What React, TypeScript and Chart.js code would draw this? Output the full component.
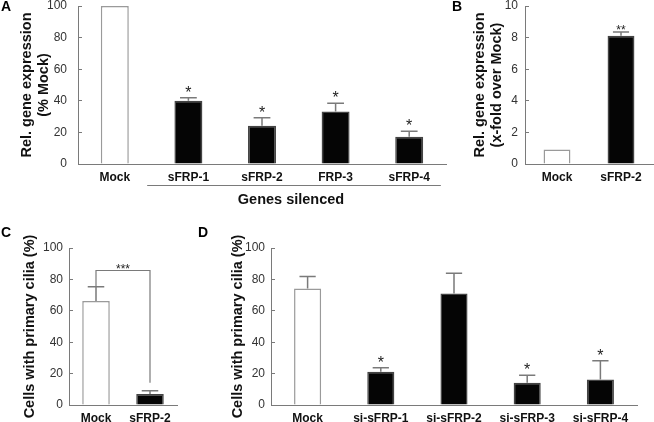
import React, { useEffect, useRef } from 'react';
import { Chart, registerables } from 'chart.js';

Chart.register(...registerables);

const FONT = '"Liberation Sans", Arial, Helvetica, sans-serif';
const AXIS = '#7a7a7a';

// ---- Panel A ----
const aLabels = ['Mock', 'sFRP-1', 'sFRP-2', 'FRP-3', 'sFRP-4'];
const aValues = [100, 40, 24.2, 33.2, 17.2];
const aErrors = [0, 2, 5, 5.3, 3.6];
const aStars = ['', '*', '*', '*', '*'];
const aTicks = [0, 20, 40, 60, 80, 100];
const aTitle = ['Rel. gene expression', '(% Mock)'];
const aGroupTitle = 'Genes silenced';

// ---- Panel B ----
const bLabels = ['Mock', 'sFRP-2'];
const bValues = [0.92, 8.12];
const bErrors = [0, 0.24];
const bStars = ['', '**'];
const bTicks = [0, 2, 4, 6, 8, 10];
const bTitle = ['Rel. gene expression', '(x-fold over Mock)'];

// ---- Panel C ----
const cLabels = ['Mock', 'sFRP-2'];
const cValues = [66.3, 7.0];
const cErrors = [9, 2.1];
const cStars = ['', ''];
const cBracketLevel = 86;
const cBracketStars = '***';
const cTicks = [0, 20, 40, 60, 80, 100];
const cTitle = 'Cells with primary cilia (%)';

// ---- Panel D ----
const dLabels = ['Mock', 'si-sFRP-1', 'si-sFRP-2', 'si-sFRP-3', 'si-sFRP-4'];
const dValues = [74.2, 21.2, 71, 14.2, 16.3];
const dErrors = [7.6, 2.5, 12.9, 4.7, 11.9];
const dStars = ['', '*', '', '*', '*'];
const dTicks = [0, 20, 40, 60, 80, 100];
const dTitle = 'Cells with primary cilia (%)';

type Spec = {
  labels: string[];
  values: number[];
  errors: number[];
  stars: string[];
  ticks: number[];
  title: string | string[];
  yWidth: number;
  titlePad: number;
  tickPad: number;
  xHeight: number;
  padTop: number;
  padRight: number;
  barPct: number;
  starFont: string;
  starDy: number;
  extra?: (chart: any) => void;
};

function makeConfig(s: Spec): any {
  const fills = s.labels.map((_, i) => (i === 0 ? '#ffffff' : '#050505'));
  const borders = s.labels.map((_, i) => (i === 0 ? '#9a9a9a' : '#444444'));
  const annot = {
    id: 'annot',
    afterDatasetsDraw(chart: any) {
      const { ctx } = chart;
      const y = chart.scales.y;
      const meta = chart.getDatasetMeta(0);
      ctx.save();
      meta.data.forEach((bar: any, i: number) => {
        const e = s.errors[i];
        const top = y.getPixelForValue(s.values[i] + e);
        const base = y.getPixelForValue(s.values[i]);
        const cap = bar.width * 0.3;
        if (e > 0) {
          ctx.strokeStyle = '#7a7a7a';
          ctx.lineWidth = 1.5;
          ctx.beginPath();
          ctx.moveTo(bar.x, base);
          ctx.lineTo(bar.x, top);
          ctx.moveTo(bar.x - cap, top);
          ctx.lineTo(bar.x + cap, top);
          ctx.stroke();
        }
        if (s.stars[i]) {
          ctx.fillStyle = '#222';
          ctx.font = s.starFont;
          ctx.textAlign = 'center';
          ctx.textBaseline = 'alphabetic';
          ctx.fillText(s.stars[i], bar.x, top + s.starDy);
        }
      });
      ctx.restore();
      if (s.extra) {
        ctx.save();
        s.extra(chart);
        ctx.restore();
      }
    },
  };
  return {
    type: 'bar',
    data: {
      labels: s.labels,
      datasets: [
        {
          data: s.values,
          backgroundColor: fills,
          borderColor: borders,
          borderWidth: 1.5,
          barPercentage: s.barPct,
          categoryPercentage: 1,
        },
      ],
    },
    options: {
      responsive: false,
      animation: false,
      devicePixelRatio: 1,
      layout: { padding: { top: s.padTop, right: s.padRight, left: 0, bottom: 0 } },
      plugins: { legend: { display: false }, tooltip: { enabled: false } },
      scales: {
        x: {
          type: 'category',
          offset: true,
          ticks: {
            font: { family: FONT, size: 12, weight: 'bold' },
            color: '#111',
            padding: 6,
            maxRotation: 0,
            autoSkip: false,
          },
          grid: { display: false, drawTicks: false },
          border: { display: true, color: AXIS, width: 1 },
          afterFit: (sc: any) => {
            sc.height = s.xHeight;
          },
        },
        y: {
          min: s.ticks[0],
          max: s.ticks[s.ticks.length - 1],
          afterBuildTicks: (sc: any) => {
            sc.ticks = s.ticks.map((v) => ({ value: v }));
          },
          ticks: {
            font: { family: FONT, size: 12, lineHeight: 1 },
            color: '#333',
            padding: s.tickPad,
          },
          grid: {
            display: true,
            drawOnChartArea: false,
            drawTicks: true,
            tickLength: -4,
            color: AXIS,
            lineWidth: 1,
          },
          border: { display: true, color: AXIS, width: 1 },
          title: {
            display: true,
            text: s.title,
            font: { family: FONT, size: 14.5, weight: 'bold', lineHeight: 1.2 },
            color: '#111',
            padding: { top: s.titlePad, bottom: 0 },
          },
          afterFit: (sc: any) => {
            sc.width = s.yWidth;
            sc.paddingTop = 6;
            sc.paddingBottom = 6;
          },
        },
      },
    },
    plugins: [annot],
  };
}

function Panel(props: { left: number; top: number; width: number; height: number; spec: Spec }) {
  const ref = useRef<HTMLCanvasElement>(null);
  useEffect(() => {
    const chart = new Chart(ref.current as HTMLCanvasElement, makeConfig(props.spec));
    return () => chart.destroy();
  }, []);
  const { left, top, width, height } = props;
  return (
    <canvas
      ref={ref}
      width={width}
      height={height}
      style={{ position: 'absolute', left, top, width, height }}
    />
  );
}

const specA: Spec = {
  labels: aLabels,
  values: aValues,
  errors: aErrors,
  stars: aStars,
  ticks: aTicks,
  title: aTitle,
  yWidth: 78,
  titlePad: 18.3,
  tickPad: 15,
  xHeight: 215 - 164,
  padTop: 0,
  padRight: 4,
  barPct: 0.38,
  starFont: `16px ${FONT}`,
  starDy: 0,
  extra: (chart: any) => {
    const { ctx } = chart;
    const x = chart.scales.x;
    const x1 = x.getPixelForValue(0.44);
    const x2 = x.getPixelForValue(4.43);
    ctx.strokeStyle = AXIS;
    ctx.lineWidth = 1;
    ctx.beginPath();
    ctx.moveTo(x1, 185.5);
    ctx.lineTo(x2, 185.5);
    ctx.stroke();
    ctx.fillStyle = '#111';
    ctx.font = `bold 14.5px ${FONT}`;
    ctx.textAlign = 'center';
    ctx.textBaseline = 'middle';
    ctx.fillText(aGroupTitle, (x1 + x2) / 2 - 3, 200);
  },
};

const specB: Spec = {
  labels: bLabels,
  values: bValues,
  errors: bErrors,
  stars: bStars,
  ticks: bTicks,
  title: bTitle,
  yWidth: 85,
  titlePad: 31.3,
  tickPad: 11,
  xHeight: 210 - 164,
  padTop: 0,
  padRight: 1,
  barPct: 0.42,
  starFont: `12px ${FONT}`,
  starDy: 2,
};

const specC: Spec = {
  labels: cLabels,
  values: cValues,
  errors: cErrors,
  stars: cStars,
  ticks: cTicks,
  title: cTitle,
  yWidth: 69,
  titlePad: 21.3,
  tickPad: 10,
  xHeight: 212 - 195,
  padTop: 38,
  padRight: 13,
  barPct: 0.51,
  starFont: `12px ${FONT}`,
  starDy: 2,
  extra: (chart: any) => {
    const { ctx } = chart;
    const y = chart.scales.y;
    const meta = chart.getDatasetMeta(0);
    const b0 = meta.data[0];
    const b1 = meta.data[1];
    const yL = y.getPixelForValue(cValues[0] + cErrors[0]);
    const yR = y.getPixelForValue(cValues[1] + cErrors[1] + 5);
    const yB = Math.round(y.getPixelForValue(cBracketLevel)) + 0.5;
    ctx.strokeStyle = AXIS;
    ctx.lineWidth = 1.2;
    ctx.beginPath();
    ctx.moveTo(b0.x, yL);
    ctx.lineTo(b0.x, yB);
    ctx.lineTo(b1.x, yB);
    ctx.lineTo(b1.x, yR);
    ctx.stroke();
    ctx.fillStyle = '#222';
    ctx.font = `12px ${FONT}`;
    ctx.textAlign = 'center';
    ctx.textBaseline = 'alphabetic';
    ctx.fillText(cBracketStars, (b0.x + b1.x) / 2, yB + 2);
  },
};

const specD: Spec = {
  labels: dLabels,
  values: dValues,
  errors: dErrors,
  stars: dStars,
  ticks: dTicks,
  title: dTitle,
  yWidth: 81,
  titlePad: 39.3,
  tickPad: 10,
  xHeight: 212 - 195,
  padTop: 38,
  padRight: 17,
  barPct: 0.37,
  starFont: `16px ${FONT}`,
  starDy: 0,
};

const letterStyle = (left: number, top: number): React.CSSProperties => ({
  position: 'absolute',
  left,
  top,
  font: `bold 14px ${FONT}`,
  lineHeight: 1,
  color: '#000',
});

export default function App() {
  return (
    <div
      style={{
        position: 'absolute',
        left: 0,
        top: 0,
        width: 654,
        height: 422,
        background: '#fff',
        overflow: 'hidden',
      }}
    >
      <Panel left={0} top={0} width={450} height={215} spec={specA} />
      <Panel left={440} top={0} width={214} height={210} spec={specB} />
      <Panel left={0} top={210} width={190} height={212} spec={specC} />
      <Panel left={190} top={210} width={464} height={212} spec={specD} />
      <div style={letterStyle(1, -1)}>A</div>
      <div style={letterStyle(452, -1)}>B</div>
      <div style={letterStyle(1, 225)}>C</div>
      <div style={letterStyle(198, 225)}>D</div>
    </div>
  );
}
